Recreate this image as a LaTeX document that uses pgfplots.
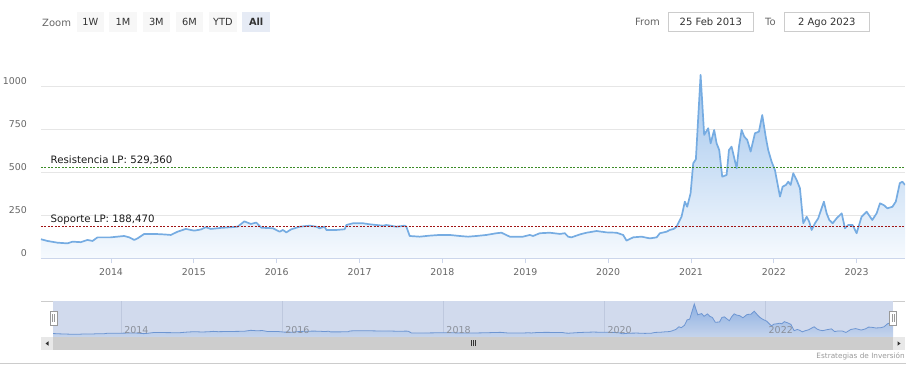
\documentclass[border=0pt]{standalone}
\usepackage{pgfplots}
\pgfplotsset{compat=1.18}
\usepackage{pgfplotstable}
\usepackage{fontspec}
\setmainfont{DejaVu Sans}
\definecolor{gridcol}{HTML}{E6E6E6}
\definecolor{axiscol}{HTML}{CCD6EB}
\definecolor{labelcol}{HTML}{666666}
\definecolor{linecol}{RGB}{118,172,226}
\definecolor{areatop}{RGB}{160,196,236}
\definecolor{areabot}{RGB}{246,250,254}
\definecolor{supcol}{RGB}{160,20,20}
\definecolor{rescol}{RGB}{60,140,40}
\definecolor{maskcol}{RGB}{209,218,237}
\definecolor{navgrid}{RGB}{190,200,222}
\definecolor{navline}{RGB}{110,150,210}
\definecolor{navtop}{RGB}{140,176,226}
\definecolor{navbot}{RGB}{198,212,236}
\definecolor{navlab}{HTML}{8A8F99}
\definecolor{btncol}{HTML}{F7F7F7}
\definecolor{btnsel}{HTML}{E6EBF5}
\definecolor{txtcol}{HTML}{333333}
\definecolor{boxcol}{HTML}{CCCCCC}
\definecolor{scrollcol}{HTML}{CDCDCD}
\definecolor{scrollbtn}{HTML}{E8E8E8}
\definecolor{credcol}{HTML}{999999}

\pgfplotstableread{
x y
2013.155 112
2013.233 102
2013.354 92
2013.475 88
2013.535 98
2013.635 95
2013.716 108
2013.777 102
2013.837 123
2013.994 123
2014.159 131
2014.220 123
2014.280 108
2014.320 117
2014.401 143
2014.522 143
2014.643 140
2014.722 137
2014.803 156
2014.903 172
2015.005 162
2015.085 169
2015.145 182
2015.205 172
2015.326 178
2015.447 182
2015.528 185
2015.609 216
2015.688 201
2015.754 209
2015.814 179
2015.954 176
2016.035 156
2016.075 166
2016.116 152
2016.176 170
2016.277 185
2016.397 191
2016.478 185
2016.518 176
2016.578 185
2016.599 166
2016.720 166
2016.820 170
2016.841 195
2016.920 205
2017.041 205
2017.122 199
2017.283 191
2017.324 195
2017.444 185
2017.545 191
2017.565 185
2017.605 131
2017.726 127
2017.847 133
2017.967 137
2018.088 137
2018.209 131
2018.309 127
2018.411 131
2018.531 137
2018.652 147
2018.713 150
2018.813 127
2018.973 127
2019.054 137
2019.094 131
2019.175 147
2019.296 150
2019.417 143
2019.477 147
2019.517 127
2019.558 123
2019.658 140
2019.739 150
2019.860 160
2019.981 152
2020.101 150
2020.181 137
2020.222 104
2020.302 123
2020.403 127
2020.504 117
2020.585 123
2020.625 147
2020.705 156
2020.745 166
2020.790 172
2020.826 185
2020.886 243
2020.926 331
2020.954 301
2020.995 379
2021.027 554
2021.059 577
2021.116 1068
2021.159 719
2021.208 758
2021.237 670
2021.280 748
2021.309 670
2021.341 631
2021.377 476
2021.430 486
2021.458 631
2021.490 651
2021.518 593
2021.551 525
2021.579 651
2021.611 748
2021.643 709
2021.679 690
2021.720 622
2021.772 729
2021.820 738
2021.860 835
2021.905 700
2021.932 631
2021.973 563
2022.013 515
2022.074 360
2022.106 418
2022.146 428
2022.174 447
2022.203 428
2022.234 496
2022.275 457
2022.315 409
2022.355 205
2022.396 243
2022.427 214
2022.456 166
2022.496 205
2022.536 234
2022.556 263
2022.604 331
2022.637 263
2022.669 224
2022.710 205
2022.758 234
2022.819 263
2022.858 176
2022.898 195
2022.951 195
2022.999 147
2023.059 243
2023.120 272
2023.188 224
2023.241 263
2023.281 321
2023.329 310
2023.370 292
2023.431 301
2023.472 331
2023.520 438
2023.551 447
2023.583 428
}\data

\newcommand{\btn}[4]{%
  \fill[#4] (#1pt,342.3pt) rectangle (#2pt,362.3pt);
  \path (#1pt,348pt) -- node[pos=0.5, anchor=base, inner sep=0pt, text=txtcol, font=\fontsize{9.8}{12}\selectfont] {#3} (#2pt,348pt);}

\begin{document}
\begin{tikzpicture}
\path[use as bounding box] (0pt,0pt) rectangle (914pt,374pt);

% ---- range selector ----
\node[anchor=base west, inner sep=0pt, text=labelcol, font=\fontsize{10}{12}\selectfont] at (42pt,347.5pt) {Zoom};
\btn{76.7}{104}{1W}{btncol}
\btn{109.3}{136.7}{1M}{btncol}
\btn{142.7}{170}{3M}{btncol}
\btn{175.7}{203.3}{6M}{btncol}
\btn{209}{236.7}{YTD}{btncol}
\btn{242.3}{270}{\bfseries All}{btnsel}

\node[anchor=base west, inner sep=0pt, text=labelcol, font=\fontsize{10}{12}\selectfont] at (635pt,348pt) {From};
\draw[boxcol, fill=white] (668.3pt,342.3pt) rectangle (753.3pt,361.7pt);
\node[anchor=base, inner sep=0pt, text=txtcol, font=\fontsize{10}{12}\selectfont] at (710.8pt,348pt) {25 Feb 2013};
\node[anchor=base west, inner sep=0pt, text=labelcol, font=\fontsize{10}{12}\selectfont] at (765pt,348pt) {To};
\draw[boxcol, fill=white] (784.3pt,342.3pt) rectangle (869.3pt,361.7pt);
\node[anchor=base, inner sep=0pt, text=txtcol, font=\fontsize{10}{12}\selectfont] at (826.8pt,348pt) {2 Ago 2023};

% ---- main chart ----
\begin{axis}[
  at={(41pt,115.5pt)}, anchor=south west, scale only axis,
  width=864pt, height=198.5pt,
  xmin=2013.155, xmax=2023.583, ymin=0, ymax=1155,
  axis line style={draw=none},
  xtick={2014,2015,2016,2017,2018,2019,2020,2021,2022,2023},
  ytick={0,250,500,750,1000},
  ymajorgrids, grid style={gridcol, line width=0.8pt},
  tick pos=left, tick align=outside,
  major tick length=5pt,
  xtick style={axiscol, line width=0.8pt},
  ytick style={draw=none},
  /pgf/number format/assume math mode=true,
  xticklabel style={/pgf/number format/1000 sep={}, anchor=north, inner sep=0pt, yshift=-5pt},
  yticklabel style={/pgf/number format/1000 sep={}, anchor=base east, inner sep=0pt, xshift=-9pt, yshift=2pt},
  tick label style={font=\fontsize{9.4}{11}\selectfont, text=labelcol},
]
\addplot[draw=none, top color=areatop, bottom color=areabot] table[x=x,y=y]{\data} \closedcycle;
\addplot[linecol, line width=1.7pt, line join=round] table[x=x,y=y]{\data};
\addplot[supcol, line width=0.9pt, dash pattern=on 2pt off 1.5pt] coordinates {(2013.155,188.47) (2023.583,188.47)};
\addplot[rescol, line width=0.9pt, dash pattern=on 2pt off 1.5pt] coordinates {(2013.155,529.36) (2023.583,529.36)};
\node[anchor=base west, inner sep=0pt, yshift=4pt, text=black!90, font=\fontsize{10.2}{12}\selectfont] at (axis cs:2013.27,529.36) {Resistencia LP: 529,360};
\node[anchor=base west, inner sep=0pt, yshift=3.5pt, text=black!90, font=\fontsize{10.2}{12}\selectfont] at (axis cs:2013.27,188.47) {Soporte LP: 188,470};
\draw[axiscol, line width=0.8pt] (rel axis cs:0,0) -- (rel axis cs:1,0);
\end{axis}

% ---- navigator ----
\draw[boxcol, line width=0.7pt] (41pt,73pt) -- (905pt,73pt);
\begin{axis}[
  at={(53pt,37pt)}, anchor=south west, scale only axis,
  width=840pt, height=36pt,
  xmin=2013.155, xmax=2023.583, ymin=0, ymax=1165,
  axis line style={draw=none},
  axis background/.style={fill=maskcol},
  xtick={2014,2016,2018,2020,2022}, xticklabels={},
  ytick=\empty, major tick length=0pt,
  xmajorgrids, grid style={navgrid, line width=0.6pt},
]
\addplot[draw=none, top color=navtop, bottom color=navbot] table[x=x,y=y]{\data} \closedcycle;
\addplot[navline, line width=0.8pt] table[x=x,y=y]{\data};
\foreach \yr in {2014,2016,2018,2020,2022}{
  \edef\tmp{\noexpand\node[anchor=base west, inner sep=0pt, xshift=3pt, yshift=3pt, text=navlab, font=\noexpand\fontsize{9.5}{11}\noexpand\selectfont] at (axis cs:\yr,0) {\yr};}
  \tmp
}
\end{axis}
% handles
\draw[credcol, fill=white, line width=0.6pt] (50pt,49pt) rectangle (57pt,63pt);
\draw[credcol, line width=0.5pt] (52.6pt,52pt) -- (52.6pt,60pt) (54.4pt,52pt) -- (54.4pt,60pt);
\draw[credcol, fill=white, line width=0.6pt] (889.7pt,49pt) rectangle (896.7pt,63pt);
\draw[credcol, line width=0.5pt] (892.3pt,52pt) -- (892.3pt,60pt) (894.1pt,52pt) -- (894.1pt,60pt);

% ---- scrollbar ----
\fill[scrollbtn] (41pt,24pt) rectangle (53pt,37pt);
\fill[scrollcol] (53pt,24pt) rectangle (893pt,37pt);
\fill[scrollbtn] (893pt,24pt) rectangle (905pt,37pt);
\fill[txtcol] (45.5pt,30.5pt) -- (48.5pt,32.7pt) -- (48.5pt,28.3pt) -- cycle;
\fill[txtcol] (900.5pt,30.5pt) -- (897.5pt,32.7pt) -- (897.5pt,28.3pt) -- cycle;
\draw[txtcol, line width=0.6pt] (471.5pt,28pt) -- (471.5pt,33.5pt) (473.5pt,28pt) -- (473.5pt,33.5pt) (475.5pt,28pt) -- (475.5pt,33.5pt);

% ---- credits and frame line ----
\node[anchor=base east, inner sep=0pt, text=credcol, font=\fontsize{7.3}{9}\selectfont] at (905pt,15pt) {Estrategias de Inversión};
\draw[boxcol, line width=0.7pt] (0pt,10.7pt) -- (906pt,10.7pt);
\end{tikzpicture}
\end{document}
